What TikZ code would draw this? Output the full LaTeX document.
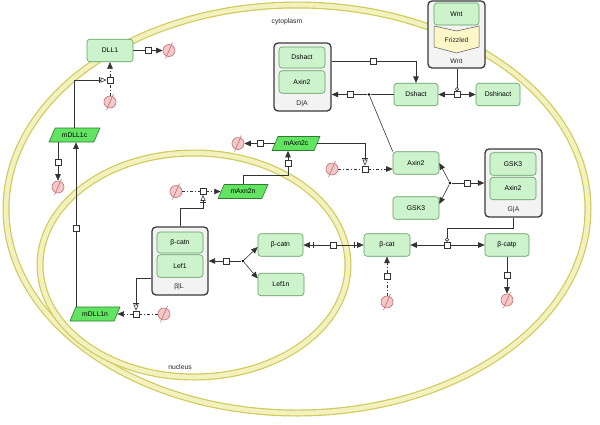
\documentclass[tikz,border=0pt]{standalone}
\usepackage{fontspec}
\setmainfont{Liberation Sans}
\usetikzlibrary{arrows.meta,shapes.geometric,calc}
\definecolor{ringedge}{HTML}{CFCB58}
\definecolor{ringfill}{HTML}{F3F1C0}
\definecolor{boxfill}{HTML}{CCF3CC}
\definecolor{boxdraw}{HTML}{5E9E5E}
\definecolor{mrnafill}{HTML}{62E362}
\definecolor{mrnadraw}{HTML}{2E7D2E}
\definecolor{cxfill}{HTML}{F3F3F3}
\definecolor{cxdraw}{HTML}{3A3A3A}
\definecolor{frzfill}{HTML}{FDF7C8}
\definecolor{sinkfill}{HTML}{F4C8C8}
\definecolor{sinkdraw}{HTML}{C07070}
\definecolor{linec}{HTML}{333333}
\begin{document}
\begin{tikzpicture}[x=1pt,y=-1pt,
  font=\fontsize{6.8}{8}\selectfont,
  species/.style={draw=boxdraw,fill=boxfill,rounded corners=3pt,minimum width=46pt,minimum height=22.5pt,inner sep=1pt,line width=0.6pt},
  mrna/.style={trapezium,trapezium left angle=50,trapezium right angle=130,trapezium stretches=true,draw=mrnadraw,fill=mrnafill,minimum width=50pt,minimum height=14pt,inner sep=0pt,line width=0.6pt},
  cplx/.style={draw=cxdraw,fill=cxfill,rounded corners=4pt,line width=1.3pt,minimum width=57pt,minimum height=68pt,inner sep=0pt},
  proc/.style={draw=linec,fill=white,minimum size=6pt,inner sep=0pt,line width=0.6pt},
  sink/.style={circle,draw=sinkdraw,fill=sinkfill,minimum size=12pt,inner sep=0pt,line width=0.6pt},
  dotn/.style={circle,fill=black,minimum size=2.8pt,inner sep=0pt},
  conn/.style={draw=linec,line width=0.6pt},
  arr/.style={conn,-{Triangle[length=6.5pt,width=5.5pt]}},
  dd/.style={dash pattern=on 3pt off 2pt on 1pt off 2pt},
  stim/.style={conn,-{Bar[width=6pt,sep=1pt]Triangle[open,length=6pt,width=5pt,fill=white]}},
  cat/.style={conn,-{Circle[open,length=4pt,fill=white]}},
  trarr/.style={conn,-{Bar[width=6pt,sep=3pt]Triangle[length=6.5pt,width=5.5pt]}},
  ring/.style={line width=7pt,draw=ringedge},
  ringin/.style={line width=4.6pt,draw=ringfill},
  lbl/.style={inner sep=0pt,text=black!85}
]
\useasboundingbox (0,0) rectangle (600,424);
% compartments
\draw[ring] (297,209) ellipse [x radius=291pt, y radius=204pt];
\draw[ringin] (297,209) ellipse [x radius=291pt, y radius=204pt];
\draw[ring] (194,265) ellipse [x radius=154pt, y radius=112pt];
\draw[ringin] (194,265) ellipse [x radius=154pt, y radius=112pt];
\node[lbl] (cyto) at (287,22) {cytoplasm};
\node[lbl] (nuc) at (180,367) {nucleus};

% complexes
\node[cplx] (DA) at (302.5,77) {};
\node[species,minimum height=21pt] (DAd) at (302,57.5) {Dshact};
\node[species] (DAa) at (302,82) {Axin2};
\node[lbl] (DAl) at (302,104) {D|A};

\node[cplx,minimum height=67pt] (W) at (456.5,34.5) {};
\node[species,minimum width=45pt,minimum height=22pt] (Wn) at (456.5,14) {Wnt};
\draw[draw=gray!70!black,fill=frzfill,line width=0.5pt] (434,26) -- (456.5,31) -- (479,26) -- (479,47) -- (456.5,53) -- (434,47) -- cycle;
\node[lbl] (Fz) at (456.5,40) {Frizzled};
\node[lbl] (Wl) at (456.5,61.5) {Wnt};

\node[cplx] (GA) at (513.5,183) {};
\node[species] (GAg) at (513,164) {GSK3};
\node[species] (GAa) at (513,188.5) {Axin2};
\node[lbl] (GAl) at (513.5,210) {G|A};

\node[cplx,minimum width=56pt] (BL) at (180,261) {};
\node[species,minimum height=21pt] (BLb) at (180,242.5) {β-catn};
\node[species] (BLf) at (180,266) {Lef1};
\node[lbl] (BLl) at (179,287) {β|L};

% species
\node[species] (DLL1) at (110,50.5) {DLL1};
\node[species,minimum width=44pt] (Dsh) at (416,94.5) {Dshact};
\node[species,minimum width=44pt] (Dshin) at (498,94.5) {Dshinact};
\node[species] (Ax) at (416,163) {Axin2};
\node[species] (Gsk) at (416,208) {GSK3};
\node[species] (bcat) at (387,245) {β-cat};
\node[species,minimum width=44pt] (bcatp) at (507,245) {β-catp};
\node[species,minimum width=45pt] (bcatn) at (280.5,245) {β-catn};
\node[species] (lef) at (281,284.5) {Lef1n};

% mRNAs
\node[mrna,minimum width=51pt] (mDc) at (74.5,135) {mDLL1c};
\node[mrna] (mDn) at (95,314) {mDLL1n};
\node[mrna] (mAn) at (243,191.5) {mAxn2n};
\node[mrna,minimum width=48pt] (mAc) at (296,143.5) {mAxn2c};

% process nodes
\node[proc] (pDd) at (148,50.5) {};
\node[proc] (pDs) at (110,80) {};
\node[proc] (pMd) at (58,162) {};
\node[proc] (pTr) at (76,228) {};
\node[proc] (pMs) at (136,314) {};
\node[proc] (pAs) at (203,191.5) {};
\node[proc] (pAt) at (288,163) {};
\node[proc] (pAd) at (260,143.5) {};
\node[proc] (pAx) at (365,169) {};
\node[proc] (pDA) at (350,94.5) {};
\node[proc] (pDA2) at (373,61) {};
\node[proc] (pW) at (457,94.5) {};
\node[proc] (pGA) at (467,183) {};
\node[proc] (pPh) at (447,245) {};
\node[proc] (pBd) at (507,275) {};
\node[proc] (pBs) at (387,276) {};
\node[proc] (pBt) at (333,245) {};
\node[proc] (pBL) at (226,261) {};
\node[dotn] (dDA) at (369,94.5) {};
\node[dotn] (dGA) at (450,183) {};
\node[dotn] (dBL) at (243,261) {};

% sinks / sources
\node[sink] (sDd) at (169,50.5) {};
\node[sink] (sDs) at (110,102) {};
\node[sink] (sMd) at (58,187) {};
\node[sink] (sMs) at (164,314) {};
\node[sink] (sAs) at (176,191.5) {};
\node[sink] (sAd) at (238,143.5) {};
\node[sink] (sAx) at (332,169) {};
\node[sink] (sBd) at (507,300) {};
\node[sink] (sBs) at (387,302) {};
\foreach \s in {sDd,sDs,sMd,sMs,sAs,sAd,sAx,sBd,sBs}
  \draw[draw=sinkdraw,line width=0.6pt] ([shift={(-3.5pt,-8pt)}]\s.center) -- ([shift={(3.5pt,8pt)}]\s.center);

% DLL1
\draw[conn] (DLL1) -- (pDd);
\draw[arr] (pDd) -- (sDd);
\draw[conn,dd] (sDs) -- (pDs);
\draw[arr,dd] (pDs) -- (DLL1);
\draw[stim] (mDc.north) |- (pDs);
\draw[conn] (pMd |- mDc.south) -- (pMd);
\draw[arr] (pMd) -- (sMd);
\draw[conn] (pTr |- mDn.north) -- (pTr);
\draw[arr] (pTr) -- (pTr |- mDc.south);
\draw[conn,dd] (sMs) -- (pMs);
\draw[arr,dd] (pMs) -- (mDn);
\draw[stim] (BL.west |- 0,278) -| (pMs);

% Axin2 mRNA
\draw[conn,dd] (sAs) -- (pAs);
\draw[arr,dd] (pAs) -- (mAn);
\draw[stim] (BL.north) |- ($(pAs)+(0,17)$) -- (pAs);
\draw[conn] (mAn.north) |- ($(pAt)+(0,12)$) -- (pAt);
\draw[arr] (pAt) -- (pAt |- mAc.south);
\draw[conn] (mAc) -- (pAd);
\draw[arr] (pAd) -- (sAd);
\draw[stim] (mAc.east) -| (pAx);
\draw[conn,dd] (sAx) -- (pAx);
\draw[arr,dd] (pAx) -- (Ax.west |- pAx);

% Dsh / Axin2
\draw[conn] (Dsh) -- (dDA);
\draw[conn] (dDA) -- (Ax.north west);
\draw[conn] (dDA) -- (pDA);
\draw[arr] (pDA) -- (DA.east |- pDA);
\draw[conn] (DA.east |- pDA2) -- (pDA2);
\draw[arr] (pDA2) -| (Dsh.north);
\draw[cat] (pW |- W.south) -- (pW);
\draw[arr] (pW) -- (Dsh);
\draw[arr] (pW) -- (Dshin);

% GSK3 / Axin2
\draw[arr] (dGA) -- (Ax.east);
\draw[arr] (dGA) -- ([yshift=4pt]Gsk.east);
\draw[conn] (dGA) -- (pGA);
\draw[arr] (pGA) -- (GA.west |- pGA);

% beta-catenin
\draw[cat] (GA.south) -- ++(0,11) -| (pPh);
\draw[arr] (pPh) -- (bcat);
\draw[arr] (pPh) -- (bcatp);
\draw[conn] (bcatp) -- (pBd);
\draw[arr] (pBd) -- (sBd);
\draw[conn,dd] (sBs) -- (pBs);
\draw[arr,dd] (pBs) -- (bcat);
\draw[trarr] (pBt) -- (bcatn);
\draw[trarr] (pBt) -- (bcat);
\draw[arr] (dBL) -- ([yshift=-2pt]bcatn.west);
\draw[arr] (dBL) -- ([yshift=6pt]lef.west);
\draw[conn] (dBL) -- (pBL);
\draw[arr] (pBL) -- (BL.east |- pBL);
\end{tikzpicture}
\end{document}
